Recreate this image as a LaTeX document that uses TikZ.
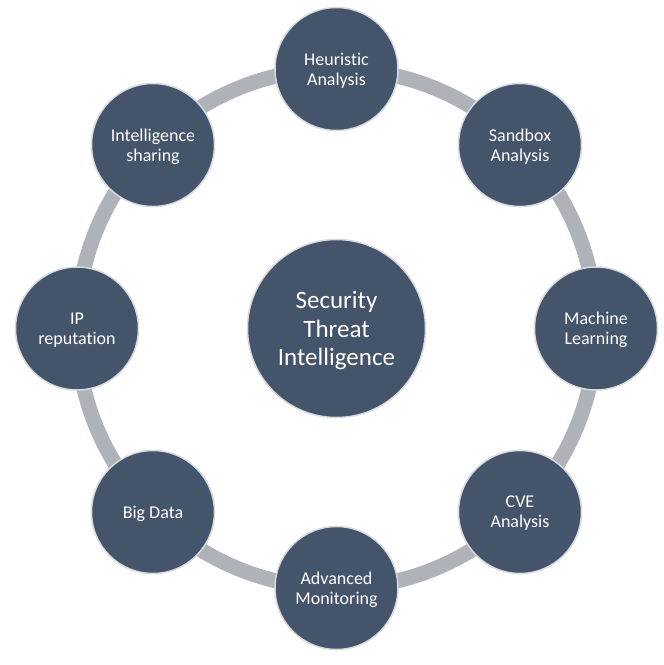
\documentclass[tikz,border=0pt]{standalone}
\usepackage{fontspec}
\setmainfont[Ligatures=NoCommon]{Carlito}
\usetikzlibrary{positioning}
\definecolor{slate}{HTML}{44546A}
\definecolor{ringgray}{HTML}{AFB2B9}
\definecolor{rimgray}{HTML}{D6D9DE}
\tikzset{hub/.style={circle, draw=rimgray, line width=1.5pt, fill=slate, text=white, minimum size=178pt, align=center, text depth=0pt, font=\fontsize{25}{28.5}\selectfont},
spoke/.style={circle, draw=rimgray, line width=1.5pt, fill=slate, text=white, minimum size=123pt, align=center, text depth=0pt, font=\fontsize{18}{20}\selectfont}}

\begin{document}
\begin{tikzpicture}[x=1pt, y=1pt]
\useasboundingbox (-336.5,-336.5) rectangle (327.5,328.5);
\draw[ringgray, line width=15pt] (0,0) circle (259.5pt);
\node[hub] (sti) at (0,0) {Security\\Threat\\Intelligence};
\foreach \ang/\name/\txt in {90/heur/{Heuristic\\Analysis}, 45/sbox/{Sandbox\\Analysis}, 0/mlearn/{Machine\\Learning}, -45/cve/{CVE\\Analysis}, -90/advmon/{Advanced\\Monitoring}, -135/bigdata/{Big Data}, 180/iprep/{IP\\reputation}, 135/intshare/{Intelligence\\sharing}}
  \node[spoke] (\name) at (\ang:259.5pt) {\txt};
\end{tikzpicture}
\end{document}
